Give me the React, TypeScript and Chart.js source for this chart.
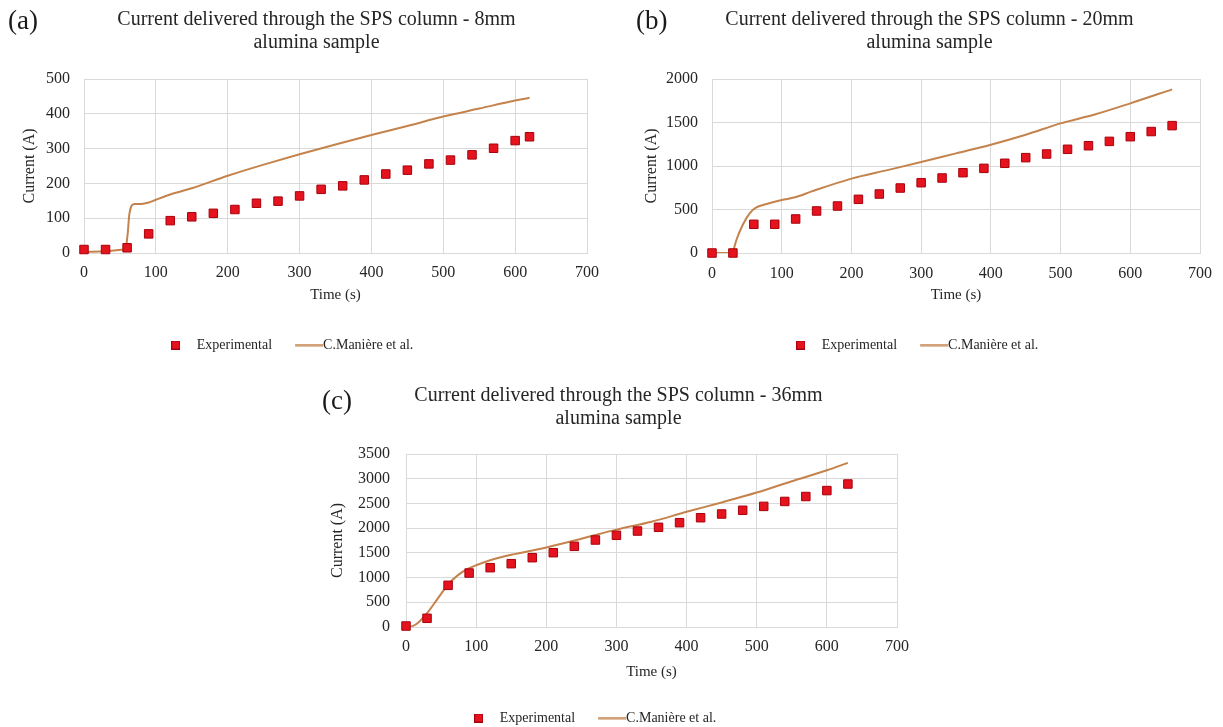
import React, { useEffect, useRef } from 'react';
import { Chart, registerables } from 'chart.js';

Chart.register(...registerables);

// ---------------- DATA ----------------
const xTicks = [0, 100, 200, 300, 400, 500, 600, 700];

// (a) 8mm
const timeA = [0, 30, 60, 90, 120, 150, 180, 210, 240, 270, 300, 330, 360, 390, 420, 450, 480, 510, 540, 570, 600, 620];
const expA = [10, 10, 15, 55, 93, 104, 114, 125, 143, 149, 164, 183, 193, 210, 227, 238, 256, 267, 282, 301, 323, 334];
const modelTimeA = [0, 30, 55, 58, 61, 63, 66, 70, 80, 90, 100, 120, 150, 200, 250, 300, 350, 400, 450, 500, 550, 600, 620];
const modelA = [3, 5, 10, 14, 60, 110, 135, 141, 141, 145, 153, 168, 186, 222, 254, 284, 312, 339, 365, 392, 415, 438, 446];

// (b) 20mm
const timeB = [0, 30, 60, 90, 120, 150, 180, 210, 240, 270, 300, 330, 360, 390, 420, 450, 480, 510, 540, 570, 600, 630, 660];
const expB = [0, 0, 330, 330, 391, 483, 540, 617, 678, 747, 808, 862, 923, 973, 1031, 1096, 1138, 1192, 1233, 1283, 1337, 1396, 1464];
const modelTimeB = [0, 25, 30, 35, 44, 54, 63, 77, 100, 119, 142, 200, 250, 300, 350, 400, 450, 500, 550, 600, 660];
const modelB = [0, 0, 20, 149, 322, 456, 521, 560, 609, 640, 705, 855, 950, 1045, 1145, 1245, 1360, 1490, 1594, 1720, 1881];

// (c) 36mm
const timeC = [0, 30, 60, 90, 120, 150, 180, 210, 240, 270, 300, 330, 360, 390, 420, 450, 480, 510, 540, 570, 600, 630];
const expC = [20, 176, 843, 1092, 1200, 1281, 1402, 1503, 1632, 1760, 1855, 1942, 2017, 2110, 2211, 2286, 2361, 2440, 2540, 2640, 2760, 2893];
const modelTimeC = [6, 15, 30, 45, 60, 75, 90, 100, 120, 150, 200, 250, 300, 350, 400, 450, 500, 550, 600, 630];
const modelC = [0, 60, 280, 570, 860, 1060, 1190, 1250, 1350, 1460, 1610, 1785, 1970, 2130, 2330, 2520, 2720, 2950, 3170, 3320];

const titleA = ['Current delivered through the SPS column - 8mm', 'alumina sample'];
const titleB = ['Current delivered through the SPS column - 20mm', 'alumina sample'];
const titleC = ['Current delivered through the SPS column - 36mm', 'alumina sample'];
const seriesLabels = ['Experimental', 'C.Manière et al.'];
const xAxisLabel = 'Time (s)';
const yAxisLabel = 'Current (A)';

// ---------------- STYLE ----------------
const FONT = "'Liberation Serif', 'Times New Roman', serif";
const RED = '#E5131D';
const RED_EDGE = '#A8000C';
const LINE = '#C4834C';
const GRID = '#D9D9D9';
const TEXT = '#262626';

const shiftPlugin = {
  id: 'shiftBoxes',
  afterLayout(chart: any, _args: any, opts: any) {
    if (chart.titleBlock && opts.title) {
      chart.titleBlock.left += opts.title;
      chart.titleBlock.right += opts.title;
    }
    if (chart.legend && opts.legend) {
      chart.legend.left += opts.legend;
      chart.legend.right += opts.legend;
    }
  },
};

function makeSquare() {
  const c = document.createElement('canvas');
  c.width = 9;
  c.height = 9;
  const g = c.getContext('2d')!;
  g.fillStyle = RED;
  g.fillRect(0, 0, 9, 9);
  g.strokeStyle = RED_EDGE;
  g.lineWidth = 1;
  g.strokeRect(0.5, 0.5, 8, 8);
  return c;
}

// legend line sample: the image is centred on the legend box, the line itself
// sits on its right part so that it ends right at the label text
function makeLineSample() {
  const c = document.createElement('canvas');
  c.width = 56;
  c.height = 3;
  const g = c.getContext('2d')!;
  g.fillStyle = LINE;
  g.fillRect(21, 0.5, 28, 2);
  return c;
}

interface PanelProps {
  left: number;
  top: number;
  width: number;
  height: number;
  padRight: number;
  yWidth: number;
  yTitlePad: number;
  yTickPad: number;
  xHeight: number;
  xTickPad: number;
  xTitlePadBottom: number;
  titlePadBottom: number;
  titleShift: number;
  legendShift: number;
  yMax: number;
  yStep: number;
  expT: number[];
  expV: number[];
  modT: number[];
  modV: number[];
  title: string[];
}

function Panel(p: PanelProps) {
  const ref = useRef<HTMLCanvasElement | null>(null);
  useEffect(() => {
    if (!ref.current) return;
    const sq = makeSquare();
    const ln = makeLineSample();
    const tickFont = { family: FONT, size: 16 };
    const chart = new Chart(ref.current, {
      type: 'scatter',
      data: {
        datasets: [
          {
            label: seriesLabels[0],
            data: p.expT.map((t, i) => ({ x: t, y: p.expV[i] })),
            pointStyle: 'rect',
            pointRadius: 6,
            pointHoverRadius: 6,
            backgroundColor: RED,
            borderColor: RED_EDGE,
            borderWidth: 1,
            showLine: false,
            clip: false,
          },
          {
            type: 'line',
            label: seriesLabels[1],
            data: p.modT.map((t, i) => ({ x: t, y: p.modV[i] })),
            borderColor: LINE,
            borderWidth: 2,
            pointRadius: 0,
            fill: false,
            cubicInterpolationMode: 'monotone',
          } as any,
        ],
      },
      options: {
        responsive: false,
        animation: false,
        events: [],
        layout: { padding: { left: 0, right: p.padRight, top: 0, bottom: 0 } },
        scales: {
          x: {
            type: 'linear',
            min: 0,
            max: 700,
            afterBuildTicks: (s: any) => {
              s.ticks = xTicks.map((v) => ({ value: v }));
            },
            ticks: { padding: p.xTickPad, color: TEXT, font: tickFont, callback: (v: any) => String(v) },
            grid: { color: GRID, lineWidth: 1, drawTicks: false },
            border: { color: GRID },
            title: {
              display: true,
              text: xAxisLabel,
              color: TEXT,
              font: { family: FONT, size: 15 },
              padding: { top: 0, bottom: p.xTitlePadBottom },
            },
            afterFit: (s: any) => {
              s.height = p.xHeight;
            },
          },
          y: {
            type: 'linear',
            min: 0,
            max: p.yMax,
            ticks: {
              stepSize: p.yStep,
              padding: p.yTickPad,
              color: TEXT,
              font: tickFont,
              callback: (v: any) => String(v),
            },
            grid: { color: GRID, lineWidth: 1, drawTicks: false },
            border: { color: GRID },
            title: {
              display: true,
              text: yAxisLabel,
              color: TEXT,
              font: { family: FONT, size: 16 },
              padding: { top: p.yTitlePad, bottom: 0 },
            },
            afterFit: (s: any) => {
              s.width = p.yWidth;
            },
          },
        },
        plugins: {
          title: {
            display: true,
            text: p.title,
            color: TEXT,
            font: { family: FONT, size: 20, weight: 'normal', lineHeight: 1.15 },
            padding: { top: 8.5, bottom: p.titlePadBottom },
          },
          legend: {
            position: 'bottom',
            labels: {
              usePointStyle: true,
              pointStyleWidth: 28,
              padding: 16,
              color: TEXT,
              font: { family: FONT, size: 14 },
              generateLabels: () => [
                {
                  text: seriesLabels[0],
                  pointStyle: sq as any,
                  fillStyle: RED,
                  strokeStyle: RED_EDGE,
                  lineWidth: 0,
                  hidden: false,
                  datasetIndex: 0,
                  fontColor: TEXT,
                },
                {
                  text: seriesLabels[1],
                  pointStyle: ln as any,
                  fillStyle: LINE,
                  strokeStyle: LINE,
                  lineWidth: 0,
                  hidden: false,
                  datasetIndex: 1,
                  fontColor: TEXT,
                },
              ],
            },
          },
          tooltip: { enabled: false },
          shiftBoxes: { title: p.titleShift, legend: p.legendShift },
        } as any,
      },
      plugins: [shiftPlugin],
    } as any);
    return () => chart.destroy();
  }, []);
  return (
    <canvas
      ref={ref}
      width={p.width}
      height={p.height}
      style={{ position: 'absolute', left: p.left, top: p.top, display: 'block' }}
    />
  );
}

const panelLabelStyle = (left: number, top: number): React.CSSProperties => ({
  position: 'absolute',
  left,
  top,
  fontFamily: FONT,
  fontSize: 27,
  lineHeight: '27px',
  color: '#1a1a1a',
});

export default function App() {
  return (
    <div
      style={{
        position: 'fixed',
        left: 0,
        top: 0,
        width: 1223,
        height: 727,
        background: '#ffffff',
        overflow: 'hidden',
      }}
    >
      <Panel
        left={0}
        top={0}
        width={610}
        height={362}
        padRight={23}
        yWidth={84}
        yTitlePad={20.4}
        yTickPad={14}
        xHeight={69}
        xTickPad={10}
        xTitlePadBottom={18}
        titlePadBottom={24.5}
        titleShift={23}
        legendShift={-6}
        yMax={500}
        yStep={100}
        expT={timeA}
        expV={expA}
        modT={modelTimeA}
        modV={modelA}
        title={titleA}
      />
      <Panel
        left={612}
        top={0}
        width={611}
        height={362}
        padRight={16}
        yWidth={100}
        yTitlePad={30.4}
        yTickPad={14}
        xHeight={69}
        xTickPad={11}
        xTitlePadBottom={18}
        titlePadBottom={24.5}
        titleShift={20}
        legendShift={3}
        yMax={2000}
        yStep={500}
        expT={timeB}
        expV={expB}
        modT={modelTimeB}
        modV={modelB}
        title={titleB}
      />
      <Panel
        left={300}
        top={376}
        width={620}
        height={359}
        padRight={23}
        yWidth={106}
        yTitlePad={28.4}
        yTickPad={16}
        xHeight={68}
        xTickPad={10}
        xTitlePadBottom={14}
        titlePadBottom={23.5}
        titleShift={20}
        legendShift={-8}
        yMax={3500}
        yStep={500}
        expT={timeC}
        expV={expC}
        modT={modelTimeC}
        modV={modelC}
        title={titleC}
      />
      <div style={panelLabelStyle(8, 7)}>(a)</div>
      <div style={panelLabelStyle(636, 7)}>(b)</div>
      <div style={panelLabelStyle(322, 387)}>(c)</div>
    </div>
  );
}
